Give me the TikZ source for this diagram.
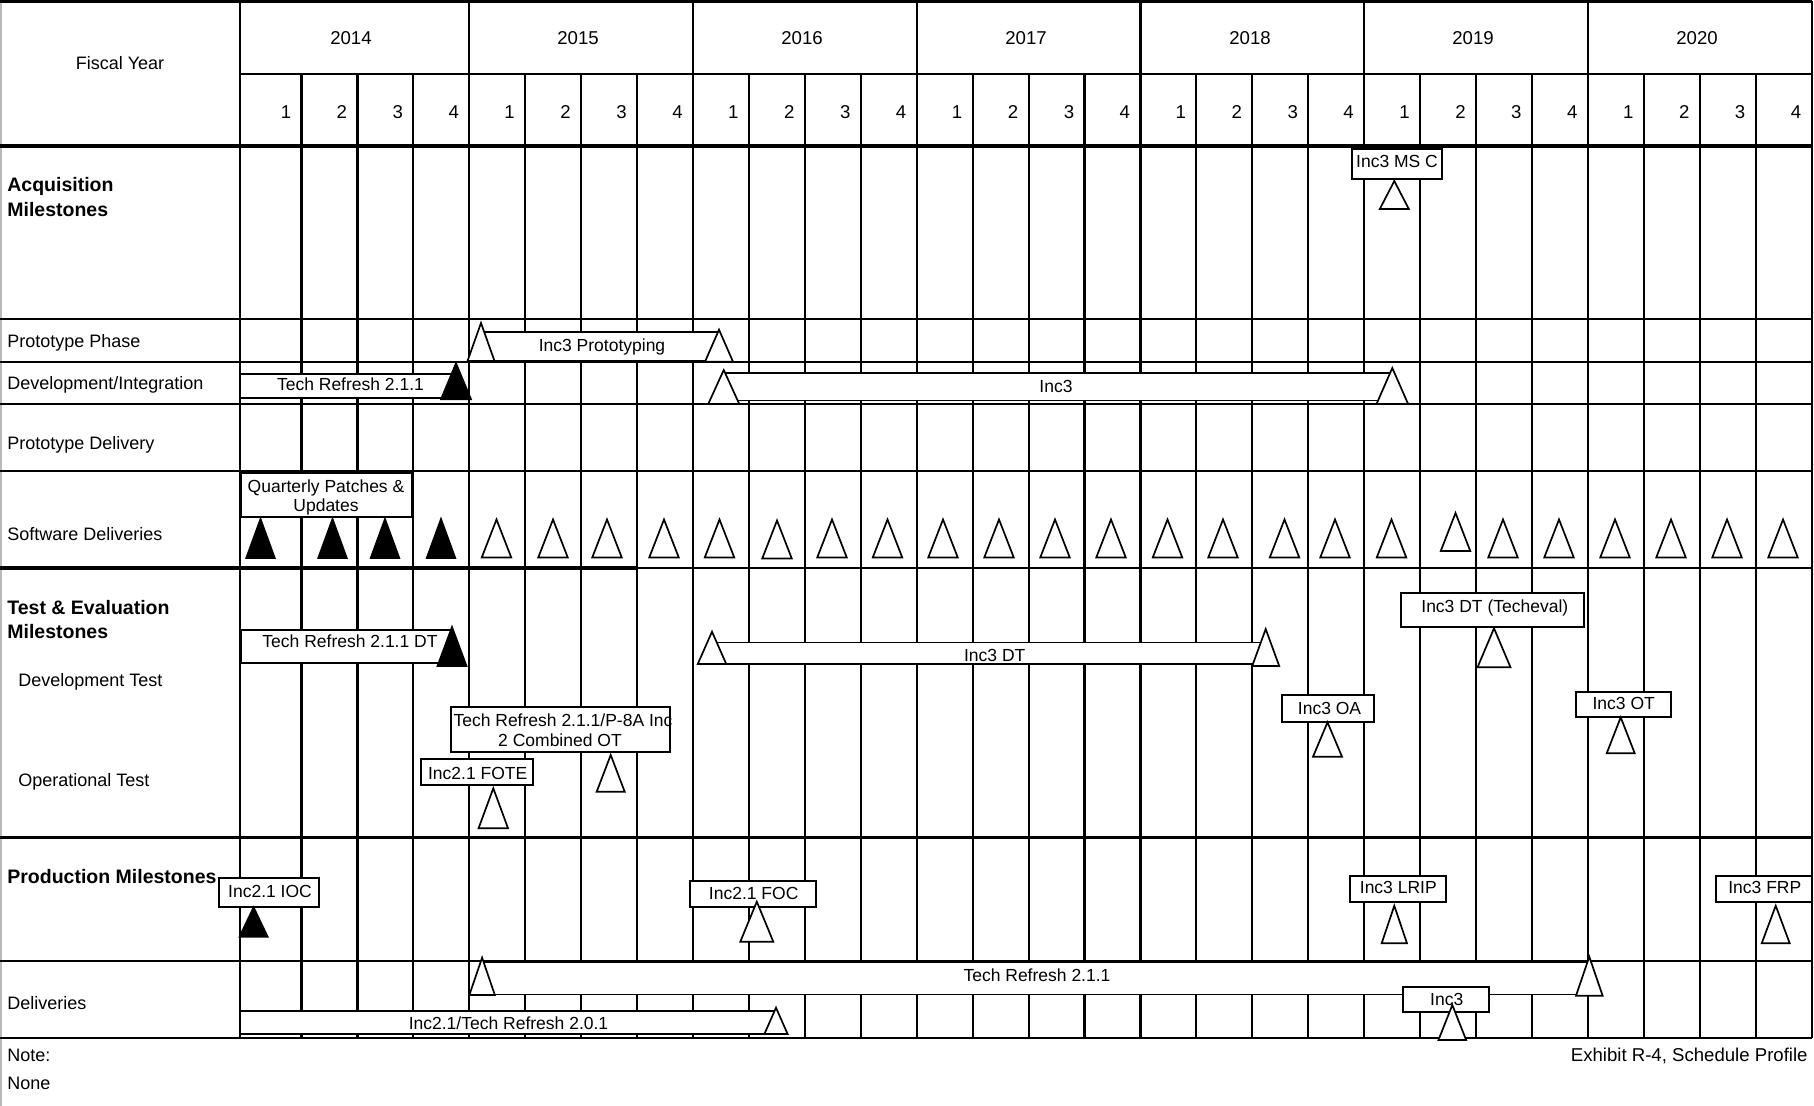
\documentclass[tikz,border=0pt]{standalone}
\usepackage{fontspec}
\setmainfont{Liberation Sans}

\begin{document}
\begin{tikzpicture}[
  x=0.5pt, y=-0.5pt,
  gridline/.style={line width=1.1pt},
  heavyline/.style={line width=1.9pt},
  rowlabel/.style={anchor=base west, inner sep=0pt, font=\fontsize{9}{11}\selectfont},
  rowhead/.style={anchor=base west, inner sep=0pt, font=\fontsize{9.75}{11}\selectfont\bfseries},
  yearlabel/.style={anchor=base, inner sep=0pt, font=\fontsize{9.3}{11}\selectfont},
  qlabel/.style={anchor=base east, inner sep=0pt, font=\fontsize{9.3}{11}\selectfont},
  tagbox/.style={draw, fill=white, line width=1pt},
  barbox/.style={draw, fill=white, line width=0.8pt},
  tagtext/.style={anchor=base, inner sep=0pt, font=\fontsize{8.75}{10}\selectfont},
  pics/ms/.style n args={3}{code={
    \draw[fill=#3, line width=0.85pt]
      (-#1/2,0) -- (0,-#2) -- (#1/2,0) -- cycle;
  }}
]

\useasboundingbox (0,0) rectangle (1814,1106);

% Frame and grid
\draw[gray!55, line width=1pt] (1,0) -- (1,1106);
\draw[gridline] (0,1.5) -- (1812,1.5);
\draw[gridline] (240,74) -- (1812,74);
\foreach \yy in {319,362,404,471,961,1038}
  \draw[gridline] (0,\yy) -- (1812,\yy);
\draw[heavyline] (0,146) -- (1812,146);
\draw[heavyline] (0,568) -- (637,568);
\draw[gridline] (637,568) -- (1812,568);
\draw[heavyline] (0,837.5) -- (1812,837.5);
\draw[gridline] (240,1) -- (240,1038);
\foreach \i in {1,...,28}
  \draw[gridline] ({301.5+(\i-1)*55.93},74) -- ({301.5+(\i-1)*55.93},1038);
\foreach \i in {4,8,...,28}
  \draw[gridline] ({301.5+(\i-1)*55.93},1) -- ({301.5+(\i-1)*55.93},74);

% Header
\node[rowlabel, anchor=base] (fiscal) at (120,70) {Fiscal Year};
\foreach \yr/\xc in {2014/351,2015/578,2016/802,2017/1026,2018/1250,2019/1473,2020/1697}
  \node[yearlabel] (yr\yr) at (\xc,45) {\yr};
\foreach \i in {1,...,28} {
  \pgfmathtruncatemacro\qn{mod(\i-1,4)+1}
  \node[qlabel] (qtr\i) at ({301.5+(\i-1)*55.93-10},119) {\qn};
}

% Row labels
\node[rowhead] (acqA) at (7,191.7) {Acquisition};
\node[rowhead] (acqB) at (7,216.7) {Milestones};
\node[rowlabel] (protophase) at (7,347.3) {Prototype Phase};
\node[rowlabel] (devint) at (7,390) {Development/Integration};
\node[rowlabel] (protodel) at (7,450) {Prototype Delivery};
\node[rowlabel] (swdel) at (7,540) {Software Deliveries};
\node[rowhead] (teA) at (7,614) {Test \& Evaluation};
\node[rowhead] (teB) at (7,638.3) {Milestones};
\node[rowlabel] (devtest) at (18,686.7) {Development Test};
\node[rowlabel] (optest) at (18,786) {Operational Test};
\node[rowhead] (prodms) at (7,883.3) {Production Milestones};
\node[rowlabel] (deliv) at (7,1009.3) {Deliveries};
\node[rowlabel] (note) at (7,1061.7) {Note:};
\node[rowlabel] (none) at (7,1089.3) {None};
\node[rowlabel, anchor=base east, font=\fontsize{9.3}{11}\selectfont] (exhibit)
  at (1808,1061.7) {Exhibit R-4, Schedule Profile};

% Bars
\draw[barbox] (481,332) rectangle (719,361);
\node[tagtext] (protoTxt) at (602,351.8) {Inc3 Prototyping};
\draw[barbox] (240,374) rectangle (456,398.3);
\node[tagtext] (trDevTxt) at (350.5,390.8) {Tech Refresh 2.1.1};
\draw[barbox] (723.75,373.3) rectangle (1392.3,400.7);
\node[tagtext] (incDevTxt) at (1056,392.5) {Inc3};
\draw[barbox] (712,642.3) rectangle (1265.7,664);
\node[tagtext] (incDtTxt) at (994.7,661.5) {Inc3 DT};
\draw[barbox] (482,961.7) rectangle (1589.3,994.3);
\node[tagtext] (trDelTxt) at (1037,981.8) {Tech Refresh 2.1.1};
\draw[barbox] (240,1011) rectangle (776,1034);
\node[tagtext] (oldDelTxt) at (508.5,1029.2) {Inc2.1/Tech Refresh 2.0.1};

% Label boxes
\draw[tagbox] (1352,149) rectangle (1442,179);
\node[tagtext] (mscTxt) at (1397,167.5) {Inc3 MS C};
\draw[tagbox] (241,473.3) rectangle (411.6,516.7);
\node[tagtext] (qpA) at (326,493) {Quarterly Patches \&};
\node[tagtext] (qpB) at (326,511.5) {Updates};
\draw[tagbox] (241,630) rectangle (451,663.3);
\node[tagtext] (trDtTxt) at (350,647.5) {Tech Refresh 2.1.1 DT};
\draw[tagbox] (1282,695) rectangle (1374,721.7);
\node[tagtext] (oaTxt) at (1329.5,714.2) {Inc3 OA};
\draw[tagbox] (1401,593.3) rectangle (1584,627.3);
\node[tagtext] (techevalTxt) at (1494.8,612.5) {Inc3 DT (Techeval)};
\draw[tagbox] (1576,691.7) rectangle (1671,716.7);
\node[tagtext] (otTxt) at (1623.7,709.8) {Inc3 OT};
\draw[tagbox] (451,706.7) rectangle (669.6,751.7);
\node[tagtext] (combA) at (563,726.8) {Tech Refresh 2.1.1/P-8A Inc};
\node[tagtext] (combB) at (560,746.5) {2 Combined OT};
\draw[tagbox] (420.5,759.3) rectangle (532.6,785);
\node[tagtext] (foteTxt) at (477.7,779.8) {Inc2.1 FOTE};
\draw[tagbox] (218.75,878.3) rectangle (319.2,907.3);
\node[tagtext] (iocTxt) at (270,897.5) {Inc2.1 IOC};
\draw[tagbox] (689.8,880.7) rectangle (816.2,907.3);
\node[tagtext] (focTxt) at (753.7,899.8) {Inc2.1 FOC};
\draw[tagbox] (1350,875.7) rectangle (1445.7,901.7);
\node[tagtext] (lripTxt) at (1398.3,893.2) {Inc3 LRIP};
\draw[tagbox] (1716,875.7) rectangle (1812.3,901.7);
\node[tagtext] (frpTxt) at (1764.8,893.2) {Inc3 FRP};
\draw[tagbox] (1402.7,986.7) rectangle (1489.3,1011.7);
\node[tagtext] (inc3Txt) at (1446.7,1005.8) {Inc3};

% Milestone triangles (width, height, fill)
\pic at (1394.3,209) {ms={29}{28}{white}};
\pic at (481,361) {ms={27}{38}{white}};
\pic at (719,361.7) {ms={28}{32}{white}};
\pic at (456,399.3) {ms={30}{36}{black}};
\pic at (723.75,404) {ms={31}{34}{white}};
\pic at (1392.3,404) {ms={31.6}{36}{white}};
\foreach \x in {260.5,332.5,385,441}
  \pic at (\x,558) {ms={28.5}{39}{black}};
\foreach \x/\yb in {496.5/557.5,553/557.5,607/557.5,664/557.5,719.5/557.5,777/558.5,
    832/557.5,887.5/557.5,943/557.5,999/557.5,1055/557.5,1111/557.5,1167.5/557.5,
    1223/557.5,1284.5/557.5,1335/557.5,1391.5/557.5,1455.5/551,1503/557.5,1559/557.5,
    1615/557.5,1671/557.5,1727/557.5,1783/557.5}
  \pic at (\x,\yb) {ms={29.5}{38}{white}};
\pic at (452,666) {ms={29}{39}{black}};
\pic at (712,664) {ms={28.5}{32.3}{white}};
\pic at (1265.7,666) {ms={27}{37}{white}};
\pic at (1327.5,756.7) {ms={29}{34.4}{white}};
\pic at (1494,667.3) {ms={33}{39}{white}};
\pic at (1620.7,753.3) {ms={28}{36}{white}};
\pic at (610.7,791.7) {ms={28}{36.7}{white}};
\pic at (493.3,828.3) {ms={29.5}{40}{white}};
\pic at (253.6,936.7) {ms={28}{29.4}{black}};
\pic at (756.8,941.7) {ms={33}{40}{white}};
\pic at (1394.3,943.3) {ms={25.3}{37.6}{white}};
\pic at (1775.7,943.3) {ms={28}{37.6}{white}};
\pic at (482.1,995) {ms={25.5}{37.3}{white}};
\pic at (1589.3,995.7) {ms={26.6}{39}{white}};
\pic at (776,1034) {ms={23.2}{26.3}{white}};
\pic at (1452.3,1040) {ms={27.7}{35}{white}};

\end{tikzpicture}
\end{document}
